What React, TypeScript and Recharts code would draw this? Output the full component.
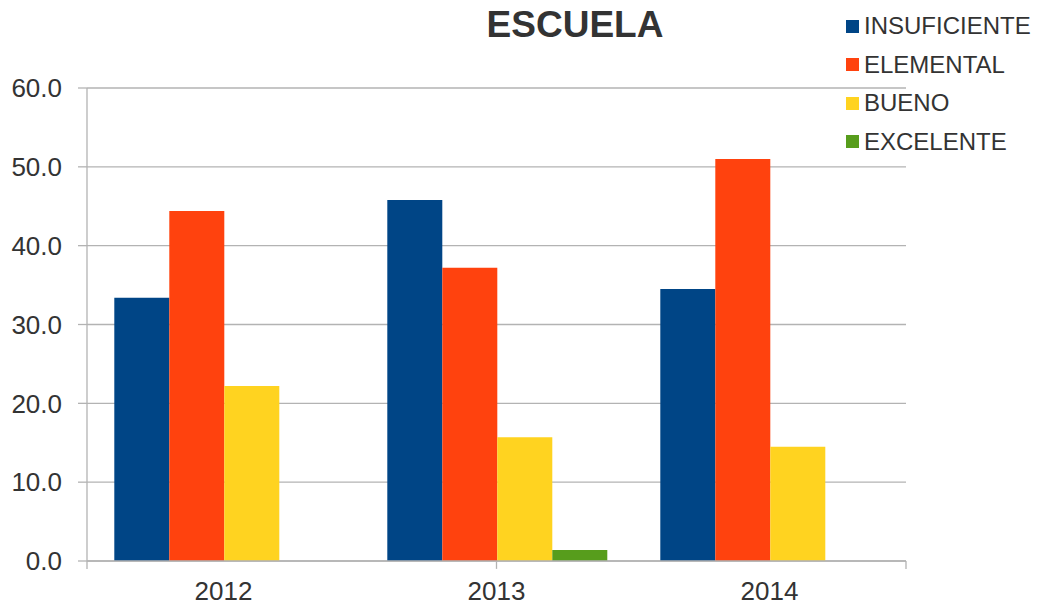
import React from "react";
import { BarChart, Bar, XAxis, YAxis, CartesianGrid, ReferenceLine } from "recharts";

const years = ["2012", "2013", "2014"];
const insuficiente = [33.4, 45.8, 34.5];
const elemental = [44.4, 37.2, 51.0];
const bueno = [22.2, 15.7, 14.5];
const excelente = [0, 1.4, 0];
const yTicks = [0, 10, 20, 30, 40, 50, 60];
const boundaryTicks = [0, 1, 2, 3];

const seriesNames = ["INSUFICIENTE", "ELEMENTAL", "BUENO", "EXCELENTE"];
const seriesKeys = ["ins", "ele", "bue", "exc"];
const seriesColors = ["#004586", "#ff420e", "#ffd320", "#579d1c"];

const data = years.map((y, i) => ({
  year: y,
  ins: insuficiente[i],
  ele: elemental[i],
  bue: bueno[i],
  exc: excelente[i],
}));

const FONT = "'Liberation Sans', Arial, sans-serif";
const TEXT = "#333333";
const GRID = "#b3b3b3";

export default function App() {
  return (
    <div style={{ position: "absolute", left: 0, top: 0, width: 1037, height: 609, background: "#fff" }}>
      <BarChart
        width={1037}
        height={609}
        data={data}
        margin={{ top: 88, right: 131, bottom: 0, left: 0 }}
        barCategoryGap="10%"
        barGap={0}
      >
        <CartesianGrid vertical={false} stroke={GRID} strokeWidth={1.3} />
        <XAxis xAxisId="b" type="number" domain={[0, 3]} ticks={boundaryTicks} hide />
        <XAxis
          dataKey="year"
          height={48}
          axisLine={{ stroke: GRID, strokeWidth: 1.3 }}
          tickLine={false}
          tickSize={0}
          tickMargin={21}
          tick={{ fill: TEXT, fontSize: 26, fontFamily: FONT }}
        />
        <YAxis
          width={87}
          domain={[0, 60]}
          ticks={yTicks}
          tickFormatter={(v: number) => v.toFixed(1)}
          axisLine={{ stroke: GRID, strokeWidth: 1.3 }}
          tickLine={{ stroke: GRID, strokeWidth: 1.3 }}
          tickSize={9}
          tickMargin={16}
          tick={{ fill: TEXT, fontSize: 26, fontFamily: FONT }}
          allowDataOverflow
        />
        <YAxis
          yAxisId="r"
          orientation="right"
          width={0}
          domain={[0, 60]}
          tick={false}
          tickLine={false}
          axisLine={{ stroke: GRID, strokeWidth: 1.3 }}
        />
        {boundaryTicks.map((t) => (
          <ReferenceLine
            key={t}
            xAxisId="b"
            segment={[
              { x: t, y: 0 },
              { x: t, y: -1 },
            ]}
            ifOverflow="visible"
            stroke={GRID}
            strokeWidth={1.3}
          />
        ))}
        {seriesKeys.map((k, i) => (
          <Bar key={k} dataKey={k} name={seriesNames[i]} fill={seriesColors[i]} isAnimationActive={false} />
        ))}
      </BarChart>
      <div
        style={{
          position: "absolute",
          left: 375,
          width: 400,
          top: 4,
          textAlign: "center",
          fontFamily: FONT,
          fontWeight: "bold",
          fontSize: 37,
          color: TEXT,
        }}
      >
        ESCUELA
      </div>
      <div style={{ position: "absolute", left: 846, top: 7, fontFamily: FONT }}>
        {seriesNames.map((n, i) => (
          <div
            key={n}
            style={{ display: "flex", alignItems: "center", height: 38.5, color: TEXT, fontSize: 24, whiteSpace: "nowrap" }}
          >
            <span
              style={{ display: "inline-block", width: 13, height: 13, background: seriesColors[i], marginRight: 5 }}
            />
            <span>{n}</span>
          </div>
        ))}
      </div>
    </div>
  );
}
